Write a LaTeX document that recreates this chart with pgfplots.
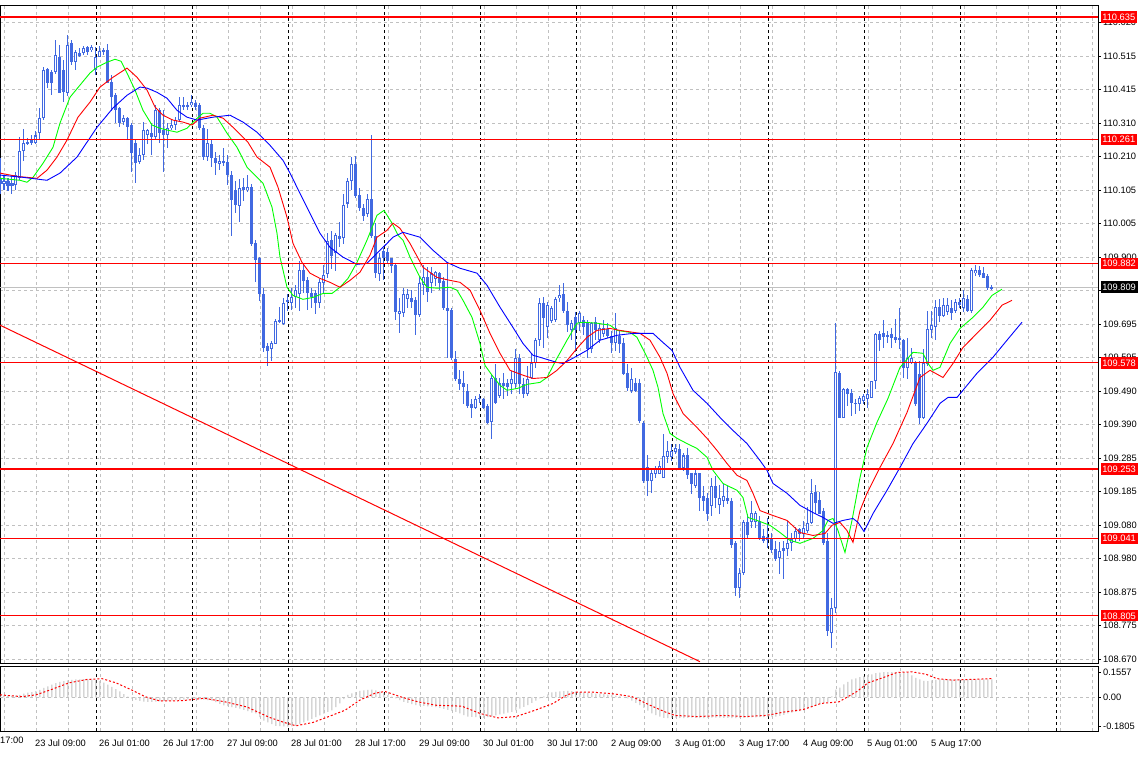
\documentclass[border=0pt]{standalone}
\usepackage{pgfplots}
\pgfplotsset{compat=1.18}
\usepackage{pgfplotstable}
\usepackage{fontspec}
\setmainfont{Liberation Sans}
\definecolor{candle}{RGB}{65,105,225}
\definecolor{magreen}{RGB}{0,255,0}
\definecolor{mared}{RGB}{255,0,0}
\definecolor{mablue}{RGB}{0,0,255}
\definecolor{silver}{RGB}{192,192,192}
\definecolor{gridgray}{RGB}{192,192,192}

\pgfplotstableread{
i o h l c
0 110.145 110.207 110.096 110.127
1 110.127 110.152 110.106 110.136
2 110.136 110.145 110.106 110.121
3 110.130 110.152 110.096 110.121
4 110.121 110.161 110.106 110.152
5 110.145 110.268 110.136 110.228
6 110.228 110.295 110.197 110.252
7 110.249 110.265 110.243 110.252
8 110.252 110.274 110.243 110.259
9 110.252 110.289 110.249 110.274
10 110.280 110.357 110.259 110.326
11 110.326 110.482 110.320 110.473
12 110.476 110.482 110.421 110.436
13 110.467 110.473 110.396 110.433
14 110.467 110.565 110.464 110.519
15 110.513 110.549 110.402 110.405
16 110.473 110.503 110.375 110.405
17 110.402 110.580 110.396 110.549
18 110.555 110.565 110.488 110.497
19 110.497 110.534 110.473 110.528
20 110.528 110.540 110.513 110.519
21 110.525 110.549 110.519 110.540
22 110.543 110.549 110.519 110.528
23 110.534 110.549 110.528 110.543
24 110.473 110.543 110.458 110.513
25 110.513 110.549 110.513 110.534
26 110.534 110.540 110.519 110.528
27 110.534 110.555 110.433 110.436
28 110.436 110.458 110.350 110.390
29 110.396 110.402 110.311 110.350
30 110.357 110.360 110.298 110.311
31 110.314 110.335 110.305 110.326
32 110.326 110.329 110.259 110.298
33 110.305 110.311 110.161 110.219
34 110.252 110.259 110.127 110.191
35 110.191 110.237 110.188 110.213
36 110.213 110.314 110.197 110.289
37 110.274 110.295 110.249 110.289
38 110.280 110.311 110.213 110.268
39 110.268 110.366 110.259 110.350
40 110.350 110.357 110.252 110.280
41 110.289 110.350 110.161 110.274
42 110.274 110.311 110.234 110.295
43 110.295 110.320 110.289 110.305
44 110.305 110.329 110.289 110.320
45 110.320 110.390 110.314 110.366
46 110.366 110.390 110.350 110.360
47 110.360 110.375 110.350 110.366
48 110.366 110.396 110.360 110.375
49 110.372 110.381 110.350 110.360
50 110.366 110.372 110.289 110.295
51 110.295 110.305 110.197 110.207
52 110.207 110.295 110.197 110.249
53 110.249 110.259 110.176 110.204
54 110.204 110.222 110.152 110.188
55 110.188 110.213 110.167 110.197
56 110.197 110.237 110.182 110.191
57 110.191 110.213 110.121 110.152
58 110.152 110.167 109.968 110.075
59 110.106 110.136 110.038 110.060
60 110.060 110.142 110.008 110.115
61 110.115 110.145 110.075 110.106
62 110.106 110.152 110.100 110.115
63 110.115 110.127 109.937 109.943
64 109.943 109.953 109.824 109.891
65 109.898 109.901 109.769 109.790
66 109.790 109.806 109.610 109.625
67 109.631 109.640 109.570 109.616
68 109.622 109.647 109.585 109.640
69 109.637 109.714 109.637 109.708
70 109.702 109.748 109.699 109.708
71 109.699 109.778 109.693 109.763
72 109.763 109.790 109.738 109.769
73 109.760 109.806 109.738 109.778
74 109.778 109.815 109.745 109.800
75 109.790 109.891 109.738 109.861
76 109.861 109.876 109.793 109.830
77 109.830 109.839 109.738 109.790
78 109.790 109.809 109.745 109.778
79 109.790 109.800 109.729 109.760
80 109.760 109.836 109.745 109.824
81 109.821 109.876 109.790 109.845
82 109.852 109.974 109.839 109.953
83 109.953 109.983 109.867 109.907
84 109.913 109.977 109.861 109.968
85 109.968 110.008 109.931 109.959
86 109.962 110.096 109.943 110.060
87 110.066 110.145 110.054 110.136
88 110.136 110.207 110.106 110.188
89 110.188 110.213 110.084 110.090
90 110.090 110.115 110.044 110.051
91 110.054 110.066 110.014 110.029
92 110.035 110.096 110.023 110.081
93 110.081 110.274 109.962 109.968
94 109.968 110.005 109.839 109.852
95 109.852 109.913 109.830 109.901
96 109.922 109.928 109.830 109.898
97 109.916 109.928 109.885 109.891
98 109.898 109.898 109.852 109.876
99 109.876 109.882 109.708 109.732
100 109.729 109.778 109.671 109.738
101 109.732 109.806 109.717 109.790
102 109.775 109.806 109.748 109.790
103 109.775 109.800 109.745 109.763
104 109.769 109.778 109.662 109.723
105 109.723 109.839 109.717 109.821
106 109.815 109.876 109.784 109.839
107 109.839 109.870 109.763 109.793
108 109.824 109.870 109.793 109.852
109 109.836 109.861 109.815 109.855
110 109.852 109.855 109.800 109.821
111 109.830 109.839 109.738 109.745
112 109.745 109.882 109.592 109.738
113 109.738 109.745 109.585 109.592
114 109.592 109.616 109.524 109.530
115 109.530 109.555 109.494 109.515
116 109.518 109.555 109.454 109.503
117 109.494 109.515 109.442 109.448
118 109.454 109.469 109.411 109.442
119 109.442 109.478 109.439 109.469
120 109.469 109.484 109.457 109.472
121 109.469 109.472 109.439 109.442
122 109.448 109.454 109.393 109.396
123 109.396 109.546 109.347 109.533
124 109.533 109.576 109.454 109.457
125 109.478 109.533 109.472 109.518
126 109.518 109.549 109.469 109.509
127 109.518 109.530 109.478 109.503
128 109.515 109.555 109.484 109.530
129 109.515 109.622 109.500 109.595
130 109.595 109.607 109.484 109.515
131 109.515 109.533 109.472 109.484
132 109.484 109.570 109.478 109.530
133 109.533 109.610 109.530 109.579
134 109.576 109.653 109.564 109.647
135 109.647 109.778 109.631 109.760
136 109.760 109.778 109.622 109.714
137 109.686 109.763 109.653 109.754
138 109.708 109.754 109.702 109.748
139 109.708 109.778 109.702 109.775
140 109.775 109.815 109.763 109.784
141 109.790 109.821 109.732 109.738
142 109.738 109.763 109.671 109.693
143 109.677 109.708 109.647 109.699
144 109.717 109.732 109.610 109.677
145 109.699 109.738 109.677 109.732
146 109.708 109.723 109.662 109.686
147 109.699 109.708 109.592 109.622
148 109.622 109.702 109.607 109.699
149 109.702 109.717 109.647 109.677
150 109.647 109.699 109.637 109.686
151 109.668 109.708 109.656 109.686
152 109.683 109.699 109.653 109.662
153 109.662 109.677 109.610 109.640
154 109.640 109.732 109.616 109.686
155 109.662 109.677 109.607 109.637
156 109.640 109.653 109.540 109.546
157 109.546 109.576 109.494 109.500
158 109.494 109.564 109.488 109.530
159 109.518 109.533 109.488 109.494
160 109.518 109.530 109.396 109.402
161 109.396 109.402 109.212 109.218
162 109.258 109.295 109.172 109.218
163 109.218 109.258 109.179 109.243
164 109.240 109.264 109.227 109.258
165 109.240 109.279 109.240 109.264
166 109.227 109.362 109.227 109.295
167 109.289 109.340 109.273 109.310
168 109.289 109.331 109.279 109.310
169 109.304 109.331 109.301 109.316
170 109.316 109.331 109.255 109.258
171 109.258 109.304 109.249 109.295
172 109.295 109.319 109.224 109.234
173 109.240 109.243 109.179 109.209
174 109.203 109.258 109.197 109.240
175 109.240 109.243 109.126 109.166
176 109.172 109.203 109.126 109.157
177 109.166 109.179 109.096 109.117
178 109.142 109.227 109.111 109.203
179 109.203 109.234 109.136 109.166
180 109.142 109.203 109.117 109.166
181 109.157 109.209 109.136 109.172
182 109.166 109.203 109.148 109.157
183 109.157 109.166 109.013 109.020
184 109.026 109.035 108.866 108.891
185 108.891 108.952 108.860 108.937
186 108.934 109.096 108.928 109.090
187 109.090 109.117 109.044 109.050
188 109.090 109.157 109.074 109.120
189 109.090 109.126 109.074 109.120
190 109.096 109.111 109.035 109.041
191 109.050 109.071 109.026 109.035
192 109.044 109.105 109.013 109.035
193 109.041 109.059 108.998 109.004
194 109.010 109.035 108.973 108.980
195 108.980 109.029 108.934 109.004
196 109.013 109.035 108.918 109.004
197 109.010 109.096 108.989 109.026
198 109.026 109.059 109.004 109.041
199 109.041 109.074 109.029 109.065
200 109.071 109.074 109.035 109.056
201 109.056 109.096 109.041 109.074
202 109.065 109.136 109.056 109.090
203 109.090 109.224 109.087 109.179
204 109.182 109.203 109.117 109.151
205 109.157 109.182 109.117 109.117
206 109.126 109.133 109.020 109.026
207 109.035 109.058 108.744 108.759
208 108.753 108.860 108.707 108.830
209 108.830 109.700 108.814 109.549
210 109.549 109.555 109.411 109.411
211 109.411 109.503 109.411 109.500
212 109.500 109.503 109.448 109.484
213 109.487 109.500 109.417 109.454
214 109.457 109.469 109.423 109.454
215 109.454 109.478 109.432 109.472
216 109.463 109.484 109.454 109.478
217 109.469 109.500 109.442 109.484
218 109.472 109.524 109.472 109.524
219 109.524 109.671 109.500 109.668
220 109.668 109.677 109.616 109.647
221 109.668 109.708 109.625 109.656
222 109.662 109.677 109.640 109.656
223 109.668 109.686 109.625 109.653
224 109.656 109.714 109.640 109.647
225 109.653 109.745 109.622 109.647
226 109.647 109.653 109.533 109.561
227 109.561 109.656 109.530 109.592
228 109.579 109.625 109.576 109.595
229 109.579 109.585 109.448 109.454
230 109.546 109.585 109.393 109.411
231 109.411 109.622 109.408 109.579
232 109.576 109.738 109.570 109.683
233 109.677 109.738 109.653 109.693
234 109.686 109.769 109.647 109.748
235 109.748 109.775 109.702 109.723
236 109.723 109.775 109.717 109.754
237 109.732 109.775 109.723 109.754
238 109.745 109.769 109.708 109.732
239 109.738 109.775 109.732 109.763
240 109.763 109.778 109.745 109.754
241 109.745 109.800 109.732 109.775
242 109.775 109.784 109.732 109.738
243 109.738 109.870 109.732 109.861
244 109.852 109.876 109.845 109.861
245 109.861 109.873 109.839 109.845
246 109.852 109.870 109.836 109.839
247 109.845 109.852 109.800 109.806
248 109.806 109.815 109.800 109.809
}\candles

\tikzset{lvl/.style={fill=mared, text=white, anchor=west, inner xsep=1.6pt, inner ysep=0pt,
    text height=7pt, text depth=0pt, minimum height=11.5pt, xshift=2.5pt}}

\begin{document}
\begin{tikzpicture}[font=\fontsize{9.3}{11}\selectfont]
\useasboundingbox (0,0) rectangle (1140pt,756pt);
\fill[white] (0,0) rectangle (1140pt,756pt);
\pgfplotsset{
  mtbase/.style={
    scale only axis, width=1098pt, xmin=0, xmax=274.5,
    axis line style={black, line width=0.9pt},
    tick align=outside, major tick length=3pt,
    xtick style={draw=none},
    ytick style={draw=black, line width=0.9pt},
    ytick pos=right,
    xtick={1,9,...,273},
    xmajorgrids,
    major grid style={gridgray, line width=0.9pt, dash pattern=on 3pt off 3pt},
    extra x ticks={0,24,...,264},
    extra x tick labels={},
    extra x tick style={major grid style={black, line width=0.9pt, dash pattern=on 3pt off 3pt}},
    yticklabel pos=right,
    tick label style={font=\fontsize{9.3}{11}\selectfont},
    yticklabel style={anchor=west, inner sep=0pt, xshift=2pt},
    clip mode=individual,
  },
}
\begin{axis}[mtbase,
  at={(0pt,93pt)}, anchor=south west, height=658pt,
  ymin=108.66, ymax=110.672,
  ymajorgrids,
  xticklabels={},
  ytick={110.620,110.515,110.415,110.310,110.210,110.105,110.005,109.900,109.800,109.695,109.595,109.490,109.390,109.285,109.185,109.080,108.980,108.875,108.775,108.670},
  yticklabels={110.620,110.515,110.415,110.310,110.210,110.105,110.005,109.900,,109.695,109.595,109.490,109.390,109.285,109.185,109.080,108.980,108.875,108.775,108.670},
]
% bid line
\addplot[silver, line width=0.9pt] coordinates {(0,109.809) (274.5,109.809)};
% trend line
\addplot[draw=red, line width=1pt] coordinates {(0,109.693) (175,108.664)};
% wicks
\addplot[draw=none, mark=none, error bars/.cd, y dir=both, y explicit, error mark=none,
  error bar style={draw=candle, line width=1pt}]
  table[x=i, y expr={(\thisrow{h}+\thisrow{l})/2}, y error expr={(\thisrow{h}-\thisrow{l})/2}] {\candles};
% bodies
\addplot[draw=none, mark=none, error bars/.cd, y dir=both, y explicit, error mark=none,
  error bar style={draw=candle, line width=3pt}]
  table[x=i, y expr={(\thisrow{o}+\thisrow{c})/2}, y error expr={max(abs(\thisrow{c}-\thisrow{o})/2,0.0016)}] {\candles};
% hollow bull bodies
\addplot[draw=none, mark=none, x filter/.expression={\thisrow{c}>\thisrow{o}+0.0062 ? x : nan},
  error bars/.cd, y dir=both, y explicit, error mark=none,
  error bar style={draw=white, line width=1pt}]
  table[x=i, y expr={(\thisrow{o}+\thisrow{c})/2}, y error expr={(\thisrow{c}-\thisrow{o})/2-0.0031}] {\candles};
% moving averages
\addplot[magreen, line width=0.9pt] coordinates {(0,110.142)(5,110.136)(6.75,110.130)(8.25,110.145)(10.75,110.188)(13.25,110.237)(15,110.311)(17.5,110.390)(20,110.427)(22.5,110.464)(24.25,110.482)(26.75,110.497)(28.75,110.506)(30.25,110.500)(31.75,110.464)(33.75,110.412)(35.75,110.350)(38,110.305)(40,110.295)(42,110.289)(44.25,110.283)(46.75,110.295)(48.75,110.320)(50.75,110.341)(52.5,110.341)(54.25,110.329)(56.75,110.280)(59.25,110.237)(61.75,110.176)(64.25,110.145)(65.75,110.127)(68,110.054)(69.25,109.974)(70,109.901)(71.75,109.809)(73.25,109.784)(75.75,109.772)(78.25,109.778)(80.75,109.790)(83,109.790)(85,109.809)(87,109.836)(89.25,109.885)(91.75,109.953)(94.25,110.029)(96,110.044)(98,110.005)(99.5,109.968)(100.75,109.953)(102.5,109.901)(105,109.839)(106.75,109.809)(109.25,109.806)(112.5,109.809)(114.25,109.800)(115.75,109.769)(118,109.717)(120,109.637)(121.25,109.570)(123,109.540)(125,109.509)(126.75,109.494)(129.5,109.500)(131.75,109.512)(135,109.518)(136.75,109.533)(139.25,109.592)(141.75,109.647)(144.25,109.699)(145.75,109.702)(149.25,109.699)(152.5,109.693)(154.25,109.677)(157.5,109.671)(159.25,109.656)(161.75,109.595)(163.25,109.555)(164.5,109.503)(165.75,109.423)(167.5,109.362)(169.25,109.347)(171.75,109.331)(174.25,109.316)(176.75,109.289)(178.25,109.249)(180.75,109.209)(184.25,109.188)(185.75,109.166)(187,109.105)(189.25,109.096)(192.5,109.081)(195,109.059)(197.5,109.035)(200,109.026)(203.25,109.041)(205.75,109.065)(207,109.096)(208.25,109.102)(209.5,109.065)(211.25,108.998)(213,109.096)(215,109.227)(216.75,109.319)(219.25,109.396)(222,109.469)(225,109.564)(228.25,109.610)(230.75,109.607)(232,109.576)(233.25,109.555)(235,109.564)(237.5,109.637)(240,109.683)(243.25,109.717)(245.75,109.748)(248,109.784)(250.5,109.803)};
\addplot[draw=red, line width=0.9pt] coordinates {(0,110.158)(4.25,110.148)(9.25,110.142)(11.75,110.167)(14.25,110.207)(16.75,110.259)(19.5,110.329)(22.5,110.375)(25,110.421)(28.25,110.451)(31.75,110.479)(34.25,110.451)(36.75,110.412)(38.75,110.360)(40.75,110.335)(43.25,110.320)(45.75,110.314)(48,110.305)(50,110.326)(53.25,110.335)(55.75,110.326)(58.25,110.298)(62,110.252)(64.25,110.207)(67.5,110.176)(69.5,110.115)(71.75,110.023)(73.25,109.943)(75.5,109.885)(77.5,109.852)(80,109.836)(82.5,109.824)(85,109.809)(87.5,109.830)(90,109.855)(92.5,109.907)(94.25,109.962)(96.75,109.983)(98.25,110.005)(100,109.989)(102.5,109.943)(105.75,109.870)(109.25,109.839)(112.5,109.830)(115,109.824)(117.5,109.800)(120,109.738)(122.5,109.668)(125,109.607)(127.5,109.555)(130.75,109.540)(133.25,109.530)(136.75,109.533)(139.25,109.555)(141.75,109.585)(144.25,109.622)(146.75,109.656)(149.25,109.677)(152.5,109.683)(155,109.677)(160,109.668)(162.5,109.647)(165,109.595)(166.75,109.546)(168.25,109.484)(170.75,109.423)(174.25,109.380)(176.75,109.347)(179.25,109.310)(181.75,109.270)(184.25,109.234)(186.75,109.218)(188.25,109.179)(190,109.126)(193.25,109.111)(196.75,109.096)(200,109.059)(203.25,109.050)(206.25,109.056)(208,109.081)(210,109.090)(211.75,109.065)(213.25,109.029)(215,109.126)(216.75,109.179)(220,109.258)(223.25,109.331)(226.75,109.426)(230,109.533)(232.5,109.555)(235.75,109.533)(238.25,109.576)(240.75,109.625)(244.25,109.668)(247.5,109.708)(250.5,109.754)(253,109.769)};
\addplot[mablue, line width=0.9pt] coordinates {(0,110.152)(5.75,110.145)(11.75,110.136)(15,110.158)(19.25,110.207)(24.25,110.298)(28.25,110.357)(31.75,110.396)(35,110.421)(36.75,110.418)(39.25,110.405)(41.75,110.387)(44.25,110.350)(46.75,110.329)(49.25,110.320)(53.25,110.329)(57.5,110.335)(60.75,110.314)(64.25,110.283)(67.5,110.243)(70.75,110.197)(72.5,110.158)(75,110.096)(77.5,110.035)(80,109.974)(82.5,109.931)(85.75,109.901)(89.25,109.879)(91.75,109.882)(94.25,109.913)(96.75,109.943)(98.25,109.962)(100.75,109.977)(105,109.962)(108.25,109.922)(111.75,109.885)(115,109.867)(119.25,109.852)(121.75,109.815)(125,109.748)(128.25,109.686)(130.75,109.637)(133.25,109.601)(135.75,109.592)(139.25,109.579)(140.75,109.576)(143.25,109.592)(146.75,109.616)(150,109.647)(154.25,109.662)(158.25,109.668)(163.25,109.668)(165.75,109.640)(168,109.616)(170,109.564)(173.25,109.494)(176.75,109.454)(180,109.411)(183.25,109.371)(186.75,109.331)(190,109.279)(191.75,109.249)(193.25,109.209)(196.75,109.179)(200,109.142)(203.25,109.120)(205.75,109.105)(208.25,109.087)(210.75,109.096)(213.25,109.102)(214.5,109.090)(216,109.062)(218.25,109.117)(221.75,109.188)(225,109.258)(228.25,109.331)(231.75,109.393)(235,109.454)(237,109.472)(239.25,109.472)(240.75,109.494)(244.25,109.546)(248.25,109.595)(251.75,109.647)(255.5,109.702)};
% horizontal levels
\addplot[draw=red, line width=1.25pt] coordinates {(0,110.635) (274.5,110.635)};
\addplot[draw=red, line width=1.25pt] coordinates {(0,110.261) (274.5,110.261)};
\addplot[draw=red, line width=1.25pt] coordinates {(0,109.882) (274.5,109.882)};
\addplot[draw=red, line width=1.25pt] coordinates {(0,109.578) (274.5,109.578)};
\addplot[draw=red, line width=1.25pt] coordinates {(0,109.253) (274.5,109.253)};
\addplot[draw=red, line width=1.25pt] coordinates {(0,109.041) (274.5,109.041)};
\addplot[draw=red, line width=1.25pt] coordinates {(0,108.805) (274.5,108.805)};
\node[lvl] at (axis cs:274.5,110.635) {110.635};
\node[lvl] at (axis cs:274.5,110.261) {110.261};
\node[lvl] at (axis cs:274.5,109.882) {109.882};
\node[lvl] at (axis cs:274.5,109.578) {109.578};
\node[lvl] at (axis cs:274.5,109.253) {109.253};
\node[lvl] at (axis cs:274.5,109.041) {109.041};
\node[lvl] at (axis cs:274.5,108.805) {108.805};
\node[lvl, fill=black] at (axis cs:274.5,109.809) {109.809};
\end{axis}

\begin{axis}[mtbase,
  at={(0pt,25pt)}, anchor=south west, height=65pt,
  ymin=-0.208, ymax=0.193,
  ymajorgrids=false,
  ytick={-0.1805,0.1557},
  yticklabels={-0.1805,0.1557},
  extra y ticks={0},
  extra y tick labels={0.00},
  extra y tick style={ymajorgrids=true, major grid style={gridgray, line width=0.9pt, dash pattern=on 3pt off 3pt}},
  xticklabels={,23 Jul 09:00,,26 Jul 01:00,,26 Jul 17:00,,27 Jul 09:00,,28 Jul 01:00,,28 Jul 17:00,,29 Jul 09:00,,30 Jul 01:00,,30 Jul 17:00,,2 Aug 09:00,,3 Aug 01:00,,3 Aug 17:00,,4 Aug 09:00,,5 Aug 01:00,,5 Aug 17:00,,,,,},
  xticklabel style={anchor=north west, inner sep=0pt, xshift=-1pt, yshift=-6pt},
]
\addplot[ybar, bar width=1pt, draw=none, fill=silver] coordinates {
(0,0.010)(1,0.010)(2,0.008)(3,0.008)(4,0.010)(5,0.015)(6,0.022)(7,0.028)(8,0.032)(9,0.038)(10,0.046)(11,0.058)(12,0.068)(13,0.078)(14,0.088)(15,0.095)(16,0.100)(17,0.105)(18,0.108)(19,0.110)(20,0.111)(21,0.112)(22,0.111)(23,0.110)(24,0.106)(25,0.100)(26,0.090)(27,0.078)(28,0.064)(29,0.050)(30,0.036)(31,0.020)(32,0.004)(33,-0.008)(34,-0.016)(35,-0.022)(36,-0.026)(37,-0.028)(38,-0.028)(39,-0.027)(40,-0.025)(41,-0.022)(42,-0.020)(43,-0.019)(44,-0.018)(45,-0.017)(46,-0.015)(47,-0.013)(48,-0.012)(49,-0.012)(50,-0.013)(51,-0.015)(52,-0.017)(53,-0.020)(54,-0.030)(55,-0.040)(56,-0.050)(57,-0.055)(58,-0.060)(59,-0.065)(60,-0.070)(61,-0.078)(62,-0.086)(63,-0.094)(64,-0.100)(65,-0.122)(66,-0.144)(67,-0.155)(68,-0.166)(69,-0.176)(70,-0.178)(71,-0.180)(72,-0.1805)(73,-0.179)(74,-0.176)(75,-0.166)(76,-0.155)(77,-0.144)(78,-0.133)(79,-0.122)(80,-0.112)(81,-0.101)(82,-0.090)(83,-0.080)(84,-0.060)(85,-0.038)(86,-0.012)(87,0.015)(88,0.024)(89,0.032)(90,0.040)(91,0.043)(92,0.045)(93,0.047)(94,0.042)(95,0.036)(96,0.024)(97,0.014)(98,0.004)(99,-0.007)(100,-0.018)(101,-0.028)(102,-0.035)(103,-0.042)(104,-0.049)(105,-0.051)(106,-0.053)(107,-0.056)(108,-0.058)(109,-0.060)(110,-0.066)(111,-0.072)(112,-0.078)(113,-0.084)(114,-0.090)(115,-0.100)(116,-0.110)(117,-0.119)(118,-0.121)(119,-0.123)(120,-0.125)(121,-0.127)(122,-0.122)(123,-0.117)(124,-0.112)(125,-0.106)(126,-0.101)(127,-0.095)(128,-0.090)(129,-0.080)(130,-0.070)(131,-0.059)(132,-0.049)(133,-0.035)(134,-0.020)(135,-0.006)(136,0.006)(137,0.018)(138,0.030)(139,0.033)(140,0.036)(141,0.038)(142,0.040)(143,0.038)(144,0.035)(145,0.032)(146,0.030)(147,0.027)(148,0.025)(149,0.023)(150,0.021)(151,0.019)(152,0.017)(153,0.015)(154,0.010)(155,0.005)(156,0.000)(157,-0.006)(158,-0.020)(159,-0.035)(160,-0.049)(161,-0.066)(162,-0.083)(163,-0.100)(164,-0.110)(165,-0.120)(166,-0.127)(167,-0.128)(168,-0.127)(169,-0.126)(170,-0.127)(171,-0.128)(172,-0.127)(173,-0.126)(174,-0.127)(175,-0.128)(176,-0.128)(177,-0.127)(178,-0.126)(179,-0.125)(180,-0.126)(181,-0.127)(182,-0.127)(183,-0.128)(184,-0.128)(185,-0.127)(186,-0.126)(187,-0.125)(188,-0.124)(189,-0.124)(190,-0.123)(191,-0.122)(192,-0.121)(193,-0.120)(194,-0.119)(195,-0.114)(196,-0.108)(197,-0.100)(198,-0.095)(199,-0.090)(200,-0.085)(201,-0.080)(202,-0.070)(203,-0.060)(204,-0.049)(205,-0.042)(206,-0.035)(207,-0.028)(208,0.005)(209,0.047)(210,0.060)(211,0.079)(212,0.095)(213,0.110)(214,0.117)(215,0.124)(216,0.130)(217,0.136)(218,0.142)(219,0.149)(220,0.152)(221,0.1557)(222,0.155)(223,0.155)(224,0.155)(225,0.154)(226,0.153)(227,0.150)(228,0.135)(229,0.120)(230,0.110)(231,0.102)(232,0.100)(233,0.104)(234,0.108)(235,0.110)(236,0.110)(237,0.110)(238,0.110)(239,0.110)(240,0.110)(241,0.110)(242,0.110)(243,0.110)(244,0.110)(245,0.110)(246,0.110)(247,0.110)(248,0.110)};
\addplot[draw=red, line width=1pt, dash pattern=on 2pt off 2pt] coordinates {(0,0.015)(5.5,0.004)(9,0.015)(12.75,0.047)(17.25,0.089)(21.75,0.110)(25.5,0.115)(29,0.089)(32.75,0.047)(36.25,0.004)(40,-0.023)(45.5,-0.021)(51,-0.006)(56.25,-0.028)(61.75,-0.060)(67.25,-0.123)(71,-0.155)(74,-0.176)(78.25,-0.155)(81.75,-0.123)(86.25,-0.080)(90,-0.017)(93.75,0.025)(96.25,0.036)(100,0.004)(104.5,-0.028)(109,-0.049)(115.5,-0.055)(120,-0.100)(124.5,-0.127)(129,-0.119)(133.75,-0.080)(138.25,-0.038)(141.75,0.015)(144,0.032)(148,0.032)(153.5,0.021)(158,0.004)(162.5,-0.049)(166.25,-0.090)(168.75,-0.112)(174.25,-0.119)(180.75,-0.112)(186.25,-0.119)(191.5,-0.112)(196.25,-0.090)(200.75,-0.076)(205.25,-0.038)(209.75,-0.028)(214.25,0.036)(217,0.089)(220.75,0.121)(224.25,0.153)(228,0.157)(231.5,0.142)(234.25,0.115)(238,0.106)(242.5,0.110)(248,0.115)};
\node[anchor=north west, inner sep=0pt, yshift=-6pt, font=\fontsize{9.3}{11}\selectfont] at (rel axis cs:0,0) {17:00};
\end{axis}
\end{tikzpicture}
\end{document}
